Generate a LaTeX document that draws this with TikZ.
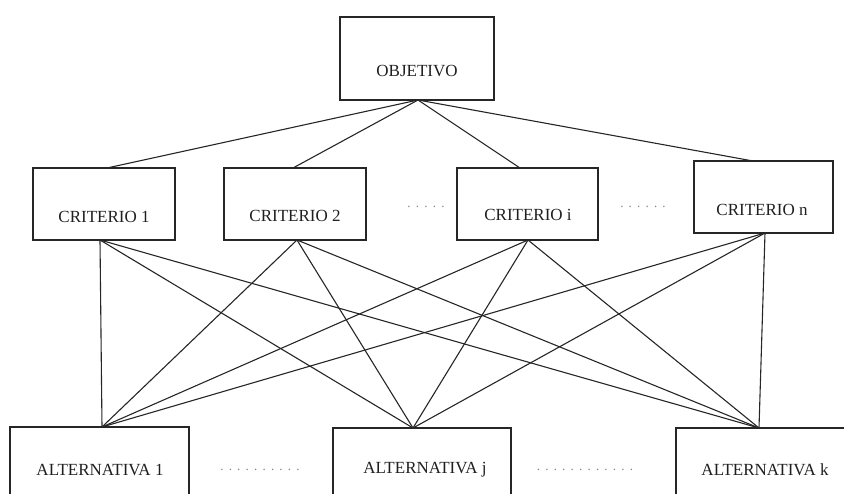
\documentclass[tikz,border=0pt]{standalone}
\usepackage{fontspec}
\setmainfont{Liberation Serif}
\newcommand\dotrow[1]{\foreach \i in {1,...,#1}{.\hspace{5.2pt}}.}
\begin{document}
\begin{tikzpicture}[x=1pt,y=-1pt,
  box/.style={draw=black!85,line width=1.4pt,rectangle,inner sep=0pt},
  lbl/.style={font=\fontsize{17}{19}\selectfont,text=black!88,inner sep=0pt},
  dots/.style={font=\fontsize{13}{14}\selectfont,text=black!50,inner sep=0pt,anchor=base},
  conn/.style={draw=black!85,line width=1.1pt}]
\useasboundingbox (0,0) rectangle (844,494);
\clip (0,0) rectangle (844,494);
% boxes
\node[box,minimum width=154,minimum height=83] (obj) at (417,58.5) {};
\node[lbl] (objt) at (417,71) {OBJETIVO};
\node[box,minimum width=142,minimum height=72] (c1) at (104,204) {};
\node[lbl] (c1t) at (104,217) {CRITERIO 1};
\node[box,minimum width=142,minimum height=72] (c2) at (295,204) {};
\node[lbl] (c2t) at (295,216) {CRITERIO 2};
\node[box,minimum width=141,minimum height=72] (ci) at (527.5,204) {};
\node[lbl] (cit) at (528,215) {CRITERIO i};
\node[box,minimum width=139,minimum height=72] (cn) at (763.5,197) {};
\node[lbl] (cnt) at (762,210) {CRITERIO n};
\node[box,minimum width=179,minimum height=80] (a1) at (99.5,467) {};
\node[lbl] (a1t) at (100,470) {ALTERNATIVA 1};
\node[box,minimum width=178,minimum height=80] (aj) at (422,468) {};
\node[lbl] (ajt) at (425,470) {ALTERNATIVA j};
\node[box,minimum width=178,minimum height=80] (ak) at (765,468) {};
\node[lbl] (akt) at (765,470) {ALTERNATIVA k};
% dots
\node[dots] (d1) at (426,208) {\dotrow{4}};
\node[dots] (d2) at (643,208) {\dotrow{5}};
\node[dots] (d3) at (260,471) {\dotrow{9}};
\node[dots] (d4) at (585,471) {\dotrow{11}};
% connection points
\coordinate (ob) at (418,100);
\coordinate (c1n) at (107,168);
\coordinate (c2n) at (293,168);
\coordinate (cin) at (520,168);
\coordinate (cnn) at (753,161);
\coordinate (c1s) at (100,240);
\coordinate (c2s) at (297,240);
\coordinate (cis) at (528,240);
\coordinate (cns) at (765,233);
\coordinate (a1n) at (102,427);
\coordinate (ajn) at (413,428);
\coordinate (akn) at (759,428);
% connectors
\foreach \c in {c1n,c2n,cin,cnn} \draw[conn] (ob) -- (\c);
\foreach \s in {c1s,c2s,cis,cns}
  \foreach \a in {a1n,ajn,akn}
    \draw[conn] (\s) -- (\a);
\end{tikzpicture}
\end{document}
